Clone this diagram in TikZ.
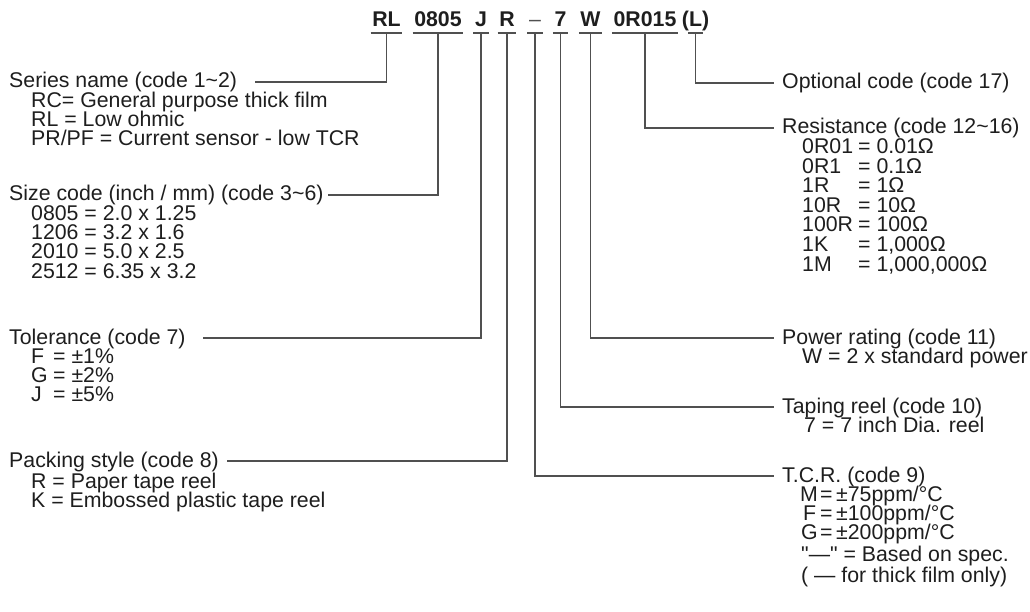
\documentclass[tikz,border=0pt]{standalone}
\usepackage{fontspec}
\setmainfont{Liberation Sans}
\definecolor{txt}{HTML}{1E1E1E}
\definecolor{ln}{HTML}{505050}
\begin{document}
\begin{tikzpicture}[x=1pt,y=-1pt,
  codebox/.style={font=\fontsize{21.3}{24}\selectfont\bfseries, inner sep=0pt, anchor=base, text=txt},
  dashbox/.style={font=\fontsize{21.3}{24}\selectfont, inner sep=0pt, anchor=base, text=ln},
  lbl/.style={font=\fontsize{21.3}{24}\selectfont, inner sep=0pt, anchor=base west, text=txt},
  conn/.style={draw=ln, line width=1.2pt}]
\useasboundingbox[fill=white] (0,0) rectangle (1030,612);

% ---- code string ----
\node[codebox] (c1) at (386.5,27) {RL};
\node[codebox] (c2) at (438,27) {0805};
\node[codebox] (c3) at (481,27) {J};
\node[codebox] (c4) at (507,27) {R};
\node[dashbox] (c5) at (535,27) {–};
\node[codebox] (c6) at (560.5,27) {7};
\node[codebox] (c7) at (590.5,27) {W};
\node[codebox] (c8) at (645,27) {0R015};
\node[codebox] (c9) at (695.5,27) {(L)};

\foreach \c in {c1,c2,c3,c4,c6,c7,c8}
  \draw[conn] ([shift={(-1.5pt,-6pt)}]\c.base west) -- ([shift={(1.5pt,-6pt)}]\c.base east);
\draw[conn] ([shift={(-8pt,-6pt)}]c5.base) -- ([shift={(8pt,-6pt)}]c5.base);
\draw[conn] ([shift={(-7.5pt,-6pt)}]c9.base) -- ([shift={(7.5pt,-6pt)}]c9.base);

% ---- left column ----
\node[lbl] (t1) at (9,88) {Series name (code 1\textasciitilde 2)};
\node[lbl] (t1a) at (31,107.3) {RC= General purpose thick film};
\node[lbl] (t1b) at (31,126.6) {RL = Low ohmic};
\node[lbl] (t1c) at (31,145.9) {PR/PF = Current sensor - low TCR};

\node[lbl] (t2) at (9,201) {Size code (inch / mm) (code 3\textasciitilde 6)};
\node[lbl] (t2a) at (31,220.3) {0805 = 2.0 x 1.25};
\node[lbl] (t2b) at (31,239.6) {1206 = 3.2 x 1.6};
\node[lbl] (t2c) at (31,258.9) {2010 = 5.0 x 2.5};
\node[lbl] (t2d) at (31,278.2) {2512 = 6.35 x 3.2};

\node[lbl] (t3) at (9,344) {Tolerance (code 7)};
\node[lbl] (t3a) at (31,363.3) {\makebox[22pt][l]{F}= ±1\%};
\node[lbl] (t3b) at (31,382.6) {\makebox[22pt][l]{G}= ±2\%};
\node[lbl] (t3c) at (31,401.9) {\makebox[22pt][l]{J}= ±5\%};

\node[lbl] (t4) at (9,467) {Packing style (code 8)};
\node[lbl] (t4a) at (31,488) {R = Paper tape reel};
\node[lbl] (t4b) at (31,507.3) {K = Embossed plastic tape reel};

% ---- right column ----
\node[lbl] (t9) at (782,89) {Optional code (code 17)};

\node[lbl] (t8) at (782,134) {Resistance (code 12\textasciitilde 16)};
\node[lbl] (t8a) at (802,153.6) {\makebox[56pt][l]{0R01}= 0.01Ω};
\node[lbl] (t8b) at (802,173.2) {\makebox[56pt][l]{0R1}= 0.1Ω};
\node[lbl] (t8c) at (802,192.8) {\makebox[56pt][l]{1R}= 1Ω};
\node[lbl] (t8d) at (802,212.4) {\makebox[56pt][l]{10R}= 10Ω};
\node[lbl] (t8e) at (802,232.0) {\makebox[56pt][l]{100R}= 100Ω};
\node[lbl] (t8f) at (802,251.6) {\makebox[56pt][l]{1K}= 1,000Ω};
\node[lbl] (t8g) at (802,271.2) {\makebox[56pt][l]{1M}= 1,000,000Ω};

\node[lbl] (t7) at (782,344) {Power rating (code 11)};
\node[lbl] (t7a) at (802,363.3) {W = 2 x standard power};

\node[lbl] (t6) at (782,413) {Taping reel (code 10)};
\node[lbl] (t6a) at (804,432.3) {7 = 7 inch Dia. reel};

\node[lbl] (t5) at (782,482) {T.C.R. (code 9)};
\node[lbl] (t5a) at (800,501.3) {\makebox[20pt][l]{M}=\,±75ppm/°C};
\node[lbl] (t5b) at (803,520.6) {\makebox[17pt][l]{F}=\,±100ppm/°C};
\node[lbl] (t5c) at (801,539.9) {\makebox[19pt][l]{G}=\,±200ppm/°C};
\node[lbl] (t5d) at (801,561.5) {\textquotedbl—\textquotedbl\ = Based on spec.};
\node[lbl] (t5e) at (801,582.5) {( — for thick film only)};

% ---- connector ends ----
\coordinate (e1) at (255,82);
\coordinate (e2) at (328,195);
\coordinate (e3) at (203,338);
\coordinate (e4) at (227,461);
\coordinate (e5) at (774,476);
\coordinate (e6) at (774,407);
\coordinate (e7) at (774,338);
\coordinate (e8) at (774,128);
\coordinate (e9) at (774,83);

% ---- connectors ----
\draw[conn] ([yshift=-6pt]c1.base) |- (e1);
\draw[conn] ([yshift=-6pt]c2.base) |- (e2);
\draw[conn] ([yshift=-6pt]c3.base) |- (e3);
\draw[conn] ([yshift=-6pt]c4.base) |- (e4);
\draw[conn] ([yshift=-6pt]c5.base) |- (e5);
\draw[conn] ([yshift=-6pt]c6.base) |- (e6);
\draw[conn] ([yshift=-6pt]c7.base) |- (e7);
\draw[conn] ([yshift=-6pt]c8.base) |- (e8);
\draw[conn] ([yshift=-6pt]c9.base) |- (e9);
\end{tikzpicture}
\end{document}
